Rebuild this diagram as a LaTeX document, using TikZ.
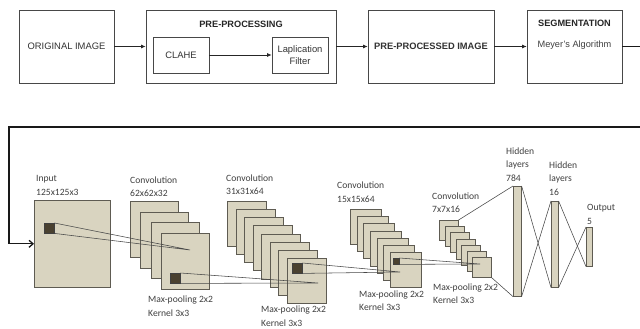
\documentclass[tikz,border=0pt]{standalone}
\usepackage{fontspec}
\setmainfont{Liberation Sans}
\newfontfamily\carl{Carlito}
\usetikzlibrary{arrows.meta}
\definecolor{beige}{HTML}{D9D4C0}
\definecolor{darkk}{HTML}{4A4130}
\definecolor{edge}{HTML}{5E5B52}
\begin{document}
\begin{tikzpicture}[x=1pt,y=-1pt,
  topbox/.style={draw=black!72, line width=0.7pt, inner sep=0pt, align=center,
     font=\fontsize{9.4}{12.5}\selectfont, text=black!80},
  toptitle/.style={inner sep=0pt, font=\bfseries\fontsize{9.2}{11}\selectfont, text=black!85},
  flow/.style={-{Latex[length=4.5pt,width=4pt]}, line width=0.7pt, draw=black!85},
  ret/.style={line width=1.3pt, draw=black!90},
  fmap/.style={draw=edge, fill=beige, line width=0.6pt, inner sep=0pt, anchor=north west},
  kern/.style={draw=black!75, fill=darkk, line width=0.4pt, inner sep=0pt, anchor=north west},
  wire/.style={draw=black!72, line width=0.55pt},
  lbl/.style={font=\carl\fontsize{9.6}{13.7}\selectfont, text=black!75, align=left,
     anchor=north west, inner sep=0pt}]
\useasboundingbox (0,0) rectangle (640,329);
\fill[white] (0,0) rectangle (640,329);

% ---------- top row ----------
\node[topbox, minimum width=95, minimum height=73] (orig) at (66.5,46.5) {ORIGINAL IMAGE};
\node[topbox, minimum width=190, minimum height=73] (pre) at (241,46.5) {};
\node[toptitle] (pretitle) at (241,24) {PRE-PROCESSING};
\node[topbox, minimum width=56, minimum height=36] (clahe) at (181,55) {CLAHE};
\node[topbox, minimum width=56, minimum height=36] (lap) at (300,55) {Laplication\\Filter};
\node[topbox, minimum width=126, minimum height=73, font=\bfseries\fontsize{9.3}{11}\selectfont] (ppi) at (431,46.5) {PRE-PROCESSED IMAGE};
\node[topbox, minimum width=95, minimum height=73] (seg) at (574.5,46.5) {};
\node[toptitle] (segtitle) at (574.5,23) {SEGMENTATION};
\node[inner sep=0pt, font=\fontsize{9.2}{11}\selectfont, text=black!75] (meyer) at (574.5,45.5) {Meyer's Algorithm};

\draw[flow] (orig.east) -- (pre.west);
\draw[flow] (clahe.east) -- (lap.west);
\draw[flow] (pre.east) -- (ppi.west);
\draw[flow] (ppi.east) -- (seg.west);

% ---------- bottom row ----------
\node[fmap, minimum width=76, minimum height=87] (in) at (34,200) {};

\foreach \i in {0,...,3}
  \node[fmap, minimum width=48, minimum height=56] (c1-\i) at ({130+10.3*\i},{201+10.7*\i}) {};
\foreach \i in {0,...,7}
  \node[fmap, minimum width=39, minimum height=45] (c2-\i) at ({227+8.57*\i},{201+8.14*\i}) {};
\foreach \i in {0,...,6}
  \node[fmap, minimum width=31, minimum height=35] (c3-\i) at ({350+6.67*\i},{209+7.17*\i}) {};
\foreach \i in {0,...,6}
  \node[fmap, minimum width=19, minimum height=20] (c4-\i) at ({439+5.5*\i},{220+6.17*\i}) {};

\node[fmap, minimum width=8, minimum height=110] (h1) at (513,186) {};
\node[fmap, minimum width=7, minimum height=86] (h2) at (551,201) {};
\node[fmap, minimum width=6, minimum height=39] (out) at (586,227) {};

\node[kern, minimum width=10, minimum height=10] (d0) at (44,223) {};
\node[kern, minimum width=10, minimum height=10] (d1) at (170,273) {};
\node[kern, minimum width=10, minimum height=10] (d2) at (292,263) {};
\node[kern, minimum width=6, minimum height=6] (d3) at (393,258) {};

\coordinate (f1) at (190,250);
\coordinate (f2) at (318,283);
\coordinate (f3) at (400,272);
\coordinate (f4) at (480,264);

\draw[wire] (d0.north east) -- (f1) -- (d0.south east);
\draw[wire] (d1.north east) -- (f2) -- (d1.south east);
\draw[wire] (d2.north east) -- (f3) -- (d2.south east);
\draw[wire] (d3.north east) -- (f4) -- (d3.south east);

\draw[wire] (c4-0.north east) -- (h1.north west);
\draw[wire] (c4-6.south east) -- (h1.south west);
\draw[wire] (h1.north east) -- (h2.south west);
\draw[wire] (h1.south east) -- (h2.north west);
\draw[wire] (h2.north east) -- (out.south west);
\draw[wire] (h2.south east) -- (out.north west);

% labels
\node[lbl] (lin) at (36,175.4) {Input\\125x125x3};
\node[lbl] (lc1) at (130,176.4) {Convolution\\62x62x32};
\node[lbl] (lc2) at (226,174.4) {Convolution\\31x31x64};
\node[lbl] (lc3) at (337,181.7) {Convolution\\15x15x64};
\node[lbl] (lc4) at (432,192.4) {Convolution\\7x7x16};
\node[lbl] (lh1) at (506,147.4) {Hidden\\layers\\784};
\node[lbl] (lh2) at (549,161.4) {Hidden\\layers\\16};
\node[lbl] (lout) at (587,204) {Output\\5};
\node[lbl] (mp1) at (148,296) {Max-pooling 2x2\\Kernel 3x3};
\node[lbl] (mp2) at (261,306) {Max-pooling 2x2\\Kernel 3x3};
\node[lbl] (mp3) at (359,290.4) {Max-pooling 2x2\\Kernel 3x3};
\node[lbl] (mp4) at (433,283.4) {Max-pooling 2x2\\Kernel 3x3};

% return connector
\coordinate (re) at (640,46.5);
\coordinate (rb) at (640,127);
\coordinate (lb) at (9,127);
\draw[ret] (seg.east) -- (re);
\draw[ret, -{Straight Barb[length=4pt,width=7pt]}] (rb) -- (lb) |- (in.west);
\end{tikzpicture}
\end{document}
